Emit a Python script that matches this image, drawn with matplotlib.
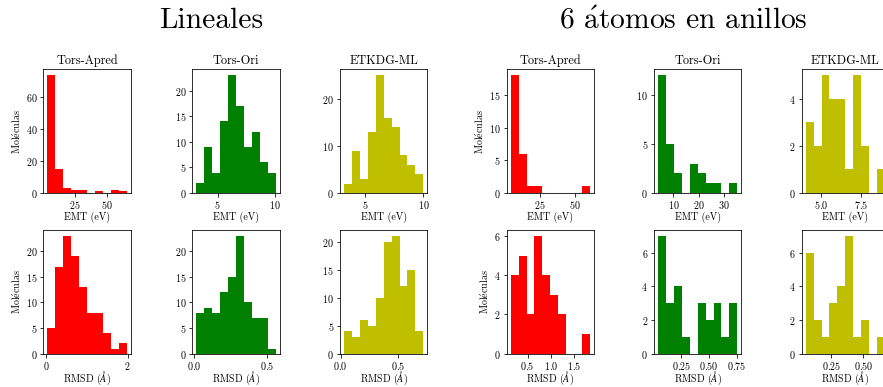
import numpy as np
import matplotlib
matplotlib.use("Agg")
import matplotlib.pyplot as plt
from matplotlib.ticker import MaxNLocator

plt.rcParams['font.family'] = ['cmr10', 'DejaVu Serif']
plt.rcParams['mathtext.fontset'] = 'cm'
plt.rcParams['axes.formatter.use_mathtext'] = True
plt.rcParams['font.size'] = 10
plt.rcParams['xtick.major.pad'] = 2.5
plt.rcParams['ytick.major.pad'] = 2.5
plt.rcParams['axes.labelpad'] = 0.5

# ---- data (10-bin histograms: counts and [min, max] of the data range) ----
group_titles = ["Lineales", r"6 $\mathrm{\acute{a}}$tomos en anillos"]
method_titles = ["Tors-Apred", "Tors-Ori", "ETKDG-ML"]
colors = ["r", "g", "y"]
xlabel_emt = "EMT (eV)"
xlabel_rmsd = r"RMSD ($\AA$)"
ylabel = r"Mol$\mathrm{\acute{e}}$culas"

# Lineales - EMT
lin_emt_apred_counts = [74, 15, 3, 2, 2, 0, 1, 0, 2, 1]
lin_emt_apred_range = [3.5, 65.8]
lin_emt_ori_counts = [2, 9, 4, 14, 23, 17, 9, 12, 6, 4]
lin_emt_ori_range = [3.12, 10.09]
lin_emt_ml_counts = [2, 9, 3, 13, 25, 16, 14, 8, 6, 4]
lin_emt_ml_range = [3.19, 10.0]
# Lineales - RMSD
lin_rmsd_apred_counts = [5, 17, 23, 19, 13, 8, 8, 4, 1, 2]
lin_rmsd_apred_range = [0.025, 1.975]
lin_rmsd_ori_counts = [8, 9, 8, 12, 15, 23, 10, 7, 7, 1]
lin_rmsd_ori_range = [0.016, 0.557]
lin_rmsd_ml_counts = [4, 3, 6, 5, 10, 20, 21, 12, 15, 4]
lin_rmsd_ml_range = [0.029, 0.718]

# 6 atomos en anillos - EMT
ring_emt_apred_counts = [18, 6, 1, 1, 0, 0, 0, 0, 0, 1]
ring_emt_apred_range = [3.85, 60.6]
ring_emt_ori_counts = [12, 5, 2, 0, 3, 2, 1, 1, 0, 1]
ring_emt_ori_range = [3.87, 35.33]
ring_emt_ml_counts = [3, 2, 5, 4, 4, 1, 5, 2, 0, 1]
ring_emt_ml_range = [4.03, 9.03]
# 6 atomos en anillos - RMSD
ring_rmsd_apred_counts = [4, 5, 2, 6, 4, 3, 2, 0, 0, 1]
ring_rmsd_apred_range = [0.136, 1.849]
ring_rmsd_ori_counts = [7, 3, 4, 1, 0, 3, 2, 3, 1, 3]
ring_rmsd_ori_range = [0.042, 0.752]
ring_rmsd_ml_counts = [6, 2, 1, 3, 4, 7, 1, 2, 0, 1]
ring_rmsd_ml_range = [0.05, 0.67]

panels = [
    [  # Lineales
        [(lin_emt_apred_counts, lin_emt_apred_range),
         (lin_emt_ori_counts, lin_emt_ori_range),
         (lin_emt_ml_counts, lin_emt_ml_range)],
        [(lin_rmsd_apred_counts, lin_rmsd_apred_range),
         (lin_rmsd_ori_counts, lin_rmsd_ori_range),
         (lin_rmsd_ml_counts, lin_rmsd_ml_range)],
    ],
    [  # anillos
        [(ring_emt_apred_counts, ring_emt_apred_range),
         (ring_emt_ori_counts, ring_emt_ori_range),
         (ring_emt_ml_counts, ring_emt_ml_range)],
        [(ring_rmsd_apred_counts, ring_rmsd_apred_range),
         (ring_rmsd_ori_counts, ring_rmsd_ori_range),
         (ring_rmsd_ml_counts, ring_rmsd_ml_range)],
    ],
]

W, H = 883, 387
DPI = 72
fig = plt.figure(figsize=(W / DPI, H / DPI), dpi=DPI)

col_left_px = [[43.3, 192.3, 340.0], [506.7, 654.0, 801.7]]
ax_w_px = 87.3
row_top_px = [69.3, 230.0]
ax_h_px = 123.7
title_x_px = [211, 683]

for g in range(2):
    fig.text(title_x_px[g] / W, 1 - 21 / H, group_titles[g], fontsize=29.5,
             ha="center", va="center")
    for r in range(2):
        for c in range(3):
            counts, rng = panels[g][r][c]
            left = col_left_px[g][c] / W
            bottom = 1 - (row_top_px[r] + ax_h_px) / H
            ax = fig.add_axes([left, bottom, ax_w_px / W, ax_h_px / H])
            edges = np.linspace(rng[0], rng[1], len(counts) + 1)
            ax.hist(edges[:-1], bins=edges, weights=counts, color=colors[c])
            ax.yaxis.set_major_locator(
                MaxNLocator(nbins=5, steps=[1, 2, 2.5, 5, 10]))
            if r == 0:
                ax.set_title(method_titles[c], fontsize=12.3, pad=5)
                ax.set_xlabel(xlabel_emt)
            else:
                ax.set_xlabel(xlabel_rmsd, labelpad=-1.5)
            if c == 0:
                ax.set_ylabel(ylabel, labelpad=3)

fig.savefig("out.png", dpi=DPI)
